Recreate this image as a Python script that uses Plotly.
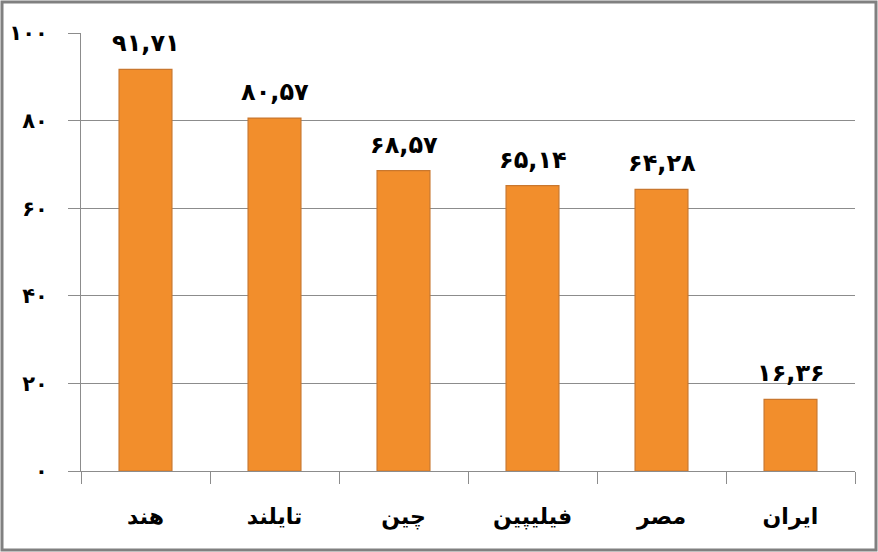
import plotly.graph_objects as go

# data
countries = ["هند", "تایلند", "چین", "فیلیپین", "مصر", "ایران"]
values = [91.71, 80.57, 68.57, 65.14, 64.28, 16.36]
y_ticks = [0, 20, 40, 60, 80, 100]

FA = str.maketrans("0123456789", "۰۱۲۳۴۵۶۷۸۹")


def fa_num(v, dec=2):
    s = f"{v:.{dec}f}".replace(".", ",")
    return s.translate(FA)


ORANGE, EDGE, GRID = "#F28E2C", "#C9772E", "#8C8C8C"
FONT = "DejaVu Sans"

W, H = 878, 552
ML, MR, MT, MB = 81, 23, 33, 81

fig = go.Figure()
fig.add_trace(go.Bar(
    x=countries, y=values,
    width=0.41,
    marker=dict(color=ORANGE, line=dict(color=EDGE, width=1.2)),
    cliponaxis=False,
))

# value labels, lifted a bit more than plotly's "outside" text
for c, v in zip(countries, values):
    fig.add_annotation(x=c, y=v, text=fa_num(v), showarrow=False,
                       yanchor="bottom", yshift=10,
                       font=dict(family=FONT, size=24, color="black", weight="bold"))

fig.update_layout(
    width=W, height=H,
    margin=dict(l=ML, r=MR, t=MT, b=MB, autoexpand=False),
    paper_bgcolor="white", plot_bgcolor="white",
    showlegend=False,
    font=dict(family=FONT, color="black"),
    shapes=[dict(type="rect", xref="paper", yref="paper",
                 x0=-(ML - 2) / (W - ML - MR), x1=1 + (MR - 2) / (W - ML - MR),
                 y0=-(MB - 2) / (H - MT - MB), y1=1 + (MT - 2) / (H - MT - MB),
                 line=dict(color="#808080", width=3), layer="above")],
)
fig.update_xaxes(
    automargin=False,
    showgrid=False, showline=True, linecolor=GRID, linewidth=1,
    ticks="outside", tickson="boundaries", ticklen=12, tickcolor=GRID,
    ticklabelstandoff=26,
    tickfont=dict(family=FONT, size=22, color="black", weight="bold"),
)
fig.update_yaxes(
    automargin=False,
    range=[0, 100], tickvals=y_ticks,
    ticktext=[str(t).translate(FA) for t in y_ticks],
    showgrid=True, gridcolor=GRID, gridwidth=1,
    showline=True, linecolor=GRID, linewidth=1,
    zeroline=False,
    ticks="outside", ticklen=12, tickcolor=GRID,
    ticklabelstandoff=16,
    tickfont=dict(family=FONT, size=21, color="black", weight="bold"),
)

# body margin would shift the chart by 8px in the window
fig.write_html("out.html",
               config={"displayModeBar": False},
               post_script="document.body.style.margin='0';"
                           "document.body.style.overflow='hidden';")
